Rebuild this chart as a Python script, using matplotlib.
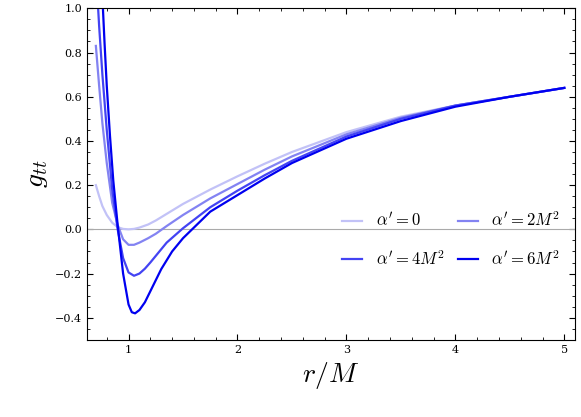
import matplotlib
matplotlib.use("Agg")
import matplotlib.pyplot as plt
from matplotlib.ticker import MultipleLocator

plt.rcParams["mathtext.fontset"] = "cm"
plt.rcParams["font.family"] = "serif"
plt.rcParams["font.serif"] = ["DejaVu Serif"]

# values
r0 = [0.7, 0.73, 0.76, 0.8, 0.85, 0.9, 0.95, 1.0, 1.05, 1.1, 1.18, 1.25, 1.35, 1.5, 1.75, 2.0, 2.25, 2.5, 3.0, 3.5, 4.0, 4.5, 5.0]
g0 = [0.2, 0.15, 0.105, 0.065, 0.03, 0.01, 0.002, 0.0, 0.002, 0.008, 0.022, 0.04, 0.07, 0.115, 0.18, 0.24, 0.297, 0.35, 0.44, 0.51, 0.56, 0.60, 0.64]
r2 = [0.7, 0.73, 0.76, 0.8, 0.85, 0.9, 0.95, 1.0, 1.05, 1.1, 1.18, 1.25, 1.35, 1.5, 1.75, 2.0, 2.25, 2.5, 3.0, 3.5, 4.0, 4.5, 5.0]
g2 = [0.83, 0.65, 0.48, 0.3, 0.12, 0.02, -0.045, -0.07, -0.07, -0.06, -0.04, -0.02, 0.015, 0.065, 0.14, 0.205, 0.27, 0.33, 0.43, 0.505, 0.56, 0.60, 0.64]
r4 = [0.715, 0.73, 0.76, 0.8, 0.85, 0.9, 0.95, 1.0, 1.05, 1.1, 1.15, 1.2, 1.25, 1.35, 1.5, 1.75, 2.0, 2.25, 2.5, 3.0, 3.5, 4.0, 4.5, 5.0]
g4 = [1.05, 0.92, 0.7, 0.45, 0.18, 0.0, -0.13, -0.195, -0.21, -0.2, -0.178, -0.15, -0.12, -0.06, 0.005, 0.1, 0.175, 0.245, 0.31, 0.42, 0.50, 0.56, 0.60, 0.64]
r6 = [0.76, 0.78, 0.8, 0.83, 0.86, 0.9, 0.95, 1.0, 1.03, 1.06, 1.1, 1.15, 1.2, 1.25, 1.3, 1.4, 1.5, 1.75, 2.0, 2.25, 2.5, 3.0, 3.5, 4.0, 4.5, 5.0]
g6 = [1.05, 0.84, 0.65, 0.42, 0.22, 0.02, -0.2, -0.34, -0.375, -0.38, -0.365, -0.33, -0.28, -0.23, -0.18, -0.1, -0.04, 0.08, 0.155, 0.23, 0.30, 0.41, 0.49, 0.555, 0.60, 0.64]
labels = [r"$\alpha'=0$", r"$\alpha'=2M^2$", r"$\alpha'=4M^2$", r"$\alpha'=6M^2$"]
colors = ["#c2c2f7", "#8383f2", "#4343f3", "#0000f0"]

fig = plt.figure(figsize=(5.81, 4.17), dpi=100)
ax = fig.add_axes([0.15, 0.185, 0.84, 0.795])
ax.axhline(0, color="#aaaaaa", lw=0.8)
handles = []
for r, g, c, lab in zip([r0, r2, r4, r6], [g0, g2, g4, g6], colors, labels):
    h, = ax.plot(r, g, color=c, lw=1.6, label=lab)
    handles.append(h)

ax.set_xlim(0.62, 5.1)
ax.set_ylim(-0.5, 1.0)
ax.xaxis.set_major_locator(MultipleLocator(1))
ax.xaxis.set_minor_locator(MultipleLocator(0.2))
ax.yaxis.set_major_locator(MultipleLocator(0.2))
ax.yaxis.set_minor_locator(MultipleLocator(0.05))
ax.tick_params(which="both", direction="in", top=True, right=True, labelsize=8)
ax.tick_params(which="major", length=4)
ax.tick_params(which="minor", length=2)
ax.set_xlabel(r"$r/M$", fontsize=20)
ax.set_ylabel(r"$g_{tt}$", fontsize=20)
# column-wise fill: reorder so rows read 0, 2M^2 / 4M^2, 6M^2
order = [0, 2, 1, 3]
ax.legend([handles[i] for i in order], [labels[i] for i in order],
          ncol=2, frameon=False, fontsize=12, loc="center right",
          bbox_to_anchor=(1.0, 0.30), handlelength=1.2, columnspacing=0.8,
          labelspacing=1.2)
fig.savefig("out.png", dpi=100)
